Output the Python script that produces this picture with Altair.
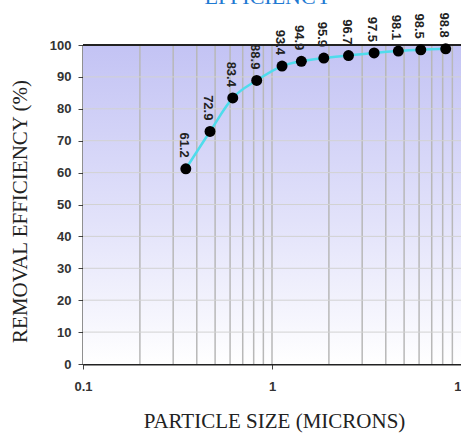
import altair as alt
import pandas as pd

# ---- data ----
sizes = [0.35, 0.47, 0.62, 0.83, 1.13, 1.43, 1.88, 2.54, 3.47, 4.66, 6.13, 8.3]
efficiency = [61.2, 72.9, 83.4, 88.9, 93.4, 94.9, 95.9, 96.7, 97.5, 98.1, 98.5, 98.8]
labels = ["61.2", "72.9", "83.4", "88.9", "93.4", "94.9", "95.9", "96.7", "97.5", "98.1", "98.5", "98.8"]
x_grid = [0.2, 0.3, 0.4, 0.5, 0.6, 0.7, 0.8, 0.9, 1, 2, 3, 4, 5, 6, 7, 8, 9]
x_labels = [0.1, 1, 10]
y_ticks = [0, 10, 20, 30, 40, 50, 60, 70, 80, 90, 100]
y_grid = [10, 20, 30, 40, 50, 60, 70, 80, 90]
x_domain = [0.1, 10]
y_domain = [0, 100]
chart_title = ["EFFICIENCY"]

df = pd.DataFrame({"size": sizes, "eff": efficiency, "label": labels})
frame = pd.DataFrame({"x0": [x_domain[0]], "x1": [x_domain[1]],
                      "y0": [y_domain[0]], "y1": [y_domain[1]]})
xg = pd.DataFrame({"g": x_grid})
yg = pd.DataFrame({"g": y_grid})
tdf = pd.DataFrame({"t": chart_title})

W, H = 378, 319
xscale = alt.Scale(type="log", domain=x_domain)
yscale = alt.Scale(domain=y_domain)

xaxis = alt.Axis(values=x_labels, format="~g", grid=False, tickSize=5,
                 tickColor="#444", labelPadding=11,
                 title="PARTICLE SIZE (MICRONS)",
                 titleX=191, titleY=57, titleBaseline="middle")
yaxis = alt.Axis(values=y_ticks, grid=False, tickSize=5, tickColor="#444",
                 labelPadding=7, title="REMOVAL EFFICIENCY (%)",
                 titleX=-63, titleY=166, titleAngle=-90,
                 titleAlign="center", titleBaseline="middle")

grad = alt.LinearGradient(
    gradient="linear",
    stops=[alt.GradientStop(color="#c3c3f4", offset=0),
           alt.GradientStop(color="#e2e2fa", offset=0.55),
           alt.GradientStop(color="#ffffff", offset=1)],
    x1=0, x2=0, y1=0, y2=1,
)

bg = alt.Chart(frame).mark_rect(fill=grad).encode(
    x=alt.X("x0:Q", scale=xscale, axis=xaxis),
    x2="x1:Q",
    y=alt.Y("y0:Q", scale=yscale, axis=yaxis),
    y2="y1:Q",
)

vgrid = alt.Chart(xg).mark_rule(color="#b8b8b8", strokeWidth=1.5).encode(
    x=alt.X("g:Q", scale=xscale, axis=xaxis)
)
hgrid = alt.Chart(yg).mark_rule(color="#d2d2d2", strokeWidth=1).encode(
    y=alt.Y("g:Q", scale=yscale, axis=yaxis)
)

top_rule = alt.Chart(frame).mark_rule(color="#222", strokeWidth=2).encode(
    y=alt.Y("y1:Q", scale=yscale, axis=yaxis)
)

line = alt.Chart(df).mark_line(color="#4fdcec", strokeWidth=2.5, interpolate="monotone").encode(
    x=alt.X("size:Q", scale=xscale, axis=xaxis), y=alt.Y("eff:Q", scale=yscale, axis=yaxis)
)

pts = alt.Chart(df).mark_circle(size=120, color="black", opacity=1).encode(
    x=alt.X("size:Q", scale=xscale, axis=xaxis), y=alt.Y("eff:Q", scale=yscale, axis=yaxis)
)

txt = alt.Chart(df).mark_text(angle=90, align="right", baseline="middle", dx=-11, dy=2,
                              font="Liberation Sans", fontWeight="bold", fontSize=13,
                              color="#222").encode(
    x=alt.X("size:Q", scale=xscale, axis=xaxis), y=alt.Y("eff:Q", scale=yscale, axis=yaxis),
    text="label:N"
)

title_txt = alt.Chart(tdf).mark_text(font="Liberation Serif", fontSize=22,
                                     color="#1f7ad2", align="center",
                                     baseline="alphabetic").encode(
    x=alt.value(185), y=alt.value(-41), text="t:N"
)

chart = alt.layer(bg, vgrid, hgrid, top_rule, line, pts, txt, title_txt).properties(
    width=W, height=H,
    background="white",
    autosize=alt.AutoSizeParams(type="none"),
    padding={"left": 83, "top": 45, "right": 0, "bottom": 70},
).configure_view(stroke=None).configure_axis(
    domainColor="#222", domainWidth=2,
    labelFont="Liberation Sans", labelFontWeight="bold", labelFontSize=13,
    labelColor="#333", labelFlush=False, labelOverlap=False,
    titleFont="Liberation Serif", titleFontWeight="normal", titleFontSize=21,
    titleColor="#222",
)

chart.save("out.html", embed_options={"renderer": "svg", "actions": False})
